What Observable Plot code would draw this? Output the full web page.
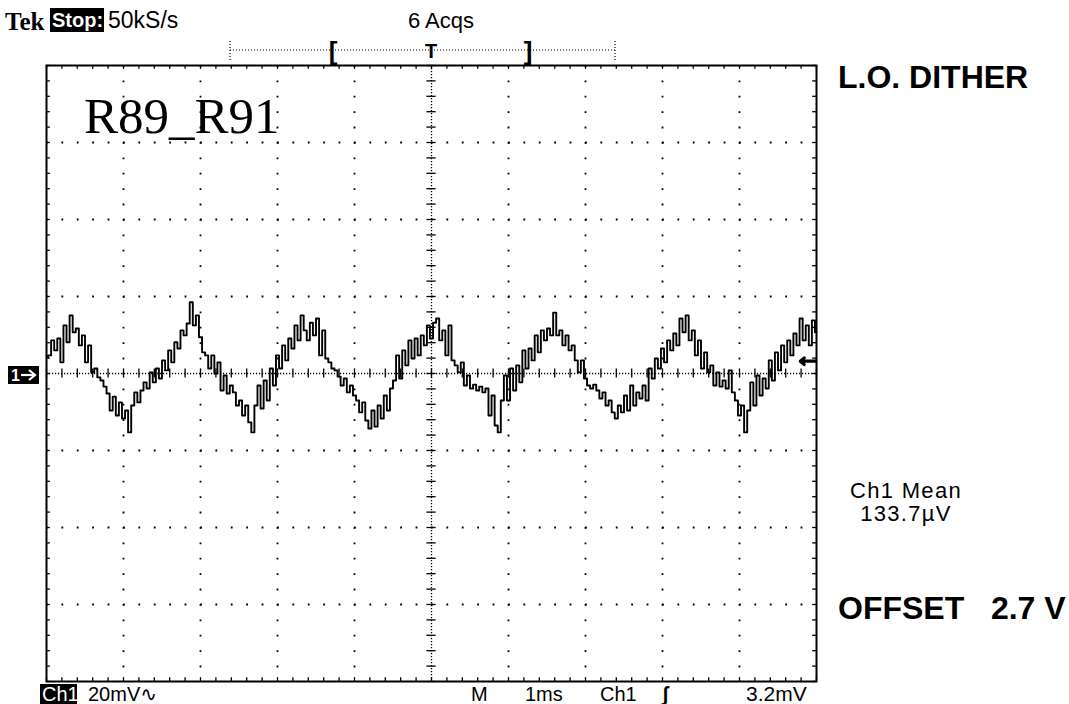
<!DOCTYPE html>
<html>
<head>
<meta charset="utf-8">
<script src="https://cdn.jsdelivr.net/npm/d3@7"></script>
<script src="https://cdn.jsdelivr.net/npm/@observablehq/plot@0.6"></script>
<style>
  html, body { margin: 0; padding: 0; background: #fff; }
  #wrap { position: relative; width: 1069px; height: 704px; overflow: hidden; background: #fff; }
  #wrap > svg { position: absolute; left: 0; top: 0; }
  #overlay text { font-family: "Liberation Sans", Arial, sans-serif; fill: #000; }
</style>
</head>
<body>
<div id="wrap"></div>
<script>
// ---------------- data ----------------
// Channel 1 trace, mV, one sample every 0.04 ms (10 ms record = 10 div x 1 ms/div)
const sampleIntervalMs = 0.04;
const ch1mV = [
  4.2, 4.7, 8.6, 6.0, 9.1, 2.9, 12.5, 8.1, 15.1, 10.7,
  11.7, 7.3, 9.9, 2.9, 7.3, 0.3, 1.3, -1.0, -1.8, -3.4,
  -5.2, -9.6, -6.0, -10.9, -7.5, -11.7, -9.6, -15.3, -8.3, -4.9,
  -7.5, -4.4, -2.3, -3.9, 0.3, -2.3, 1.3, -1.3, 3.4, 0.8,
  6.0, 2.9, 8.1, 6.5, 11.2, 9.9, 13.0, 18.5, 12.5, 15.1,
  9.4, 5.5, 4.7, 1.3, 4.7, 0.0, 2.9, -4.4, -0.5, -5.2,
  -3.1, -4.9, -8.3, -7.0, -10.9, -8.3, -12.7, -15.3, -8.3, -3.1,
  -9.1, -1.8, -7.0, 1.3, -3.1, 4.7, 1.3, 7.3, 3.4, 9.1,
  6.5, 12.5, 8.6, 15.1, 11.2, 8.6, 13.2, 9.9, 14.3, 4.7,
  11.2, 3.9, 2.9, 1.3, 0.8, -0.8, -3.1, -1.3, -4.9, -3.1,
  -5.7, -7.0, -10.1, -7.5, -12.2, -14.3, -9.6, -13.8, -8.3, -11.7,
  -5.7, -9.6, -3.9, -1.8, 4.7, -1.3, 6.0, 2.1, 8.6, 3.9,
  9.1, 4.7, 9.9, 7.3, 12.5, 9.1, 13.2, 14.3, 8.6, 11.2,
  4.7, 12.5, 3.4, 2.1, 0.3, 2.9, -3.1, -0.5, -3.9, -2.9,
  -4.4, -3.4, -4.9, -3.9, -10.9, -5.7, -13.5, -15.3, -7.0, -0.5,
  -7.0, 1.3, -4.4, 2.1, -2.3, 6.0, 1.3, 6.5, 3.4, 9.9,
  5.5, 11.2, 8.6, 11.7, 9.9, 15.8, 9.9, 11.2, 7.3, 9.9,
  6.0, 7.3, 3.4, 0.3, 3.4, -1.3, -3.1, -3.9, -2.9, -4.4,
  -6.5, -4.9, -8.3, -7.0, -10.1, -11.7, -8.3, -10.1, -5.7, -9.6,
  -3.1, -8.3, -4.9, -6.5, -3.1, -7.0, 1.3, -1.3, 3.9, 1.3,
  6.5, 2.9, 8.6, 6.0, 10.4, 7.3, 14.3, 10.7, 15.1, 8.6,
  11.2, 4.7, 8.6, 1.3, 5.5, 0.3, 2.1, -3.1, 0.3, -3.4,
  -1.8, -3.9, 0.8, -4.9, -7.0, -10.9, -8.3, -15.3, -9.6, -2.3,
  -8.3, -0.5, -5.7, -1.3, -3.9, 3.4, -1.8, 5.5, 0.8, 7.3,
  2.9, 8.6, 4.7, 10.4, 7.3, 14.3, 8.6, 12.5, 7.3, 13.8,
  10.7
];
const triggerLevelMv = [3.2];

// graticule: 10 horizontal divisions (1 ms/div), 8 vertical divisions (20 mV/div)
const timeDivs = [0, 1, 2, 3, 4, 5, 6, 7, 8, 9, 10];
const voltDivs = [-80, -60, -40, -20, 0, 20, 40, 60, 80];
const subdivisions = 5;

// screen texts
const topLeftLabel = "Tek";
const runStateLabel = "Stop:";
const sampleRateLabel = "50kS/s";
const acqLabel = "6 Acqs";
const traceName = "R89_R91";
const titleRight = "L.O. DITHER";
const measName = "Ch1 Mean";
const measValue = "133.7µV";
const offsetLabel = "OFFSET   2.7 V";
const chBoxLabel = "Ch1";
const voltsPerDivLabel = "20mV∿";
const mainLabel = "M";
const timePerDivLabel = "1ms";
const trigSourceLabel = "Ch1";
const trigSlopeLabel = "ʃ";
const trigLevelLabel = "3.2mV";

// ---------------- derived tables ----------------
const trace = ch1mV.map((v, i) => ({t: i * sampleIntervalMs, v}));
const tStep = (timeDivs[1] - timeDivs[0]) / subdivisions;
const vStep = (voltDivs[1] - voltDivs[0]) / subdivisions;
const tMinor = d3.range(0, (timeDivs.length - 1) * subdivisions + 1).map(k => timeDivs[0] + k * tStep);
const vMinor = d3.range(0, (voltDivs.length - 1) * subdivisions + 1).map(k => voltDivs[0] + k * vStep);
const tMin = timeDivs[0], tMax = timeDivs[timeDivs.length - 1];
const vMin = voltDivs[0], vMax = voltDivs[voltDivs.length - 1];
const tMid = (tMin + tMax) / 2, vMid = (vMin + vMax) / 2;
const tInner = timeDivs.filter(d => d !== tMin && d !== tMax && d !== tMid);
const vInner = voltDivs.filter(d => d !== vMin && d !== vMax && d !== vMid);

const W = 1069, H = 704;
const mL = 46, mR = 253, mT = 65, mB = 23;
const tickT = tStep * 0.25;   // border tick length in ms units
const tickV = vStep * 0.25;   // border tick length in mV units

const plot = Plot.plot({
  width: W,
  height: H,
  marginLeft: mL,
  marginRight: mR,
  marginTop: mT,
  marginBottom: mB,
  style: {background: "white"},
  x: {domain: [tMin, tMax], axis: null},
  y: {domain: [vMin, vMax], axis: null},
  marks: [
    // major grid lines drawn as dots at every subdivision
    Plot.ruleX(tInner, {stroke: "black", strokeWidth: 1.8, strokeDasharray: "1.8 13.6"}),
    Plot.ruleY(vInner, {stroke: "black", strokeWidth: 1.8, strokeDasharray: "1.8 13.6"}),
    // centre cross: dense dotted lines
    Plot.ruleX([tMid], {stroke: "black", strokeWidth: 1.3, strokeDasharray: "1.2 1.8"}),
    Plot.ruleY([vMid], {stroke: "black", strokeWidth: 1.3, strokeDasharray: "1.2 1.8"}),
    // subdivision ticks on centre cross
    Plot.ruleX(tMinor, {x: d => d, y1: vMid - tickV * 1.2, y2: vMid + tickV * 1.2, stroke: "black", strokeWidth: 1.3}),
    Plot.ruleY(vMinor, {y: d => d, x1: tMid - tickT * 1.2, x2: tMid + tickT * 1.2, stroke: "black", strokeWidth: 1.3}),
    // subdivision ticks on the border
    Plot.ruleX(tMinor, {x: d => d, y1: vMax, y2: vMax - tickV, stroke: "black", strokeWidth: 1.3}),
    Plot.ruleX(tMinor, {x: d => d, y1: vMin, y2: vMin + tickV, stroke: "black", strokeWidth: 1.3}),
    Plot.ruleY(vMinor, {y: d => d, x1: tMin, x2: tMin + tickT, stroke: "black", strokeWidth: 1.3}),
    Plot.ruleY(vMinor, {y: d => d, x1: tMax, x2: tMax - tickT, stroke: "black", strokeWidth: 1.3}),
    // trace
    Plot.line(trace, {x: "t", y: "v", curve: "step", stroke: "black", strokeWidth: 1.9}),
    // trigger level arrow
    Plot.arrow(triggerLevelMv, {
      x1: () => tMax - tStep * 0.05, x2: () => tMax - tStep * 1.05,
      y1: d => d, y2: d => d,
      stroke: "black", strokeWidth: 3.2, headLength: 12, headAngle: 80
    }),
    Plot.frame({stroke: "black", strokeWidth: 2})
  ]
});

const wrap = document.getElementById("wrap");
wrap.appendChild(plot);

// ---------------- screen annotations (overlay SVG) ----------------
const svgNS = "http://www.w3.org/2000/svg";
const ov = document.createElementNS(svgNS, "svg");
ov.setAttribute("id", "overlay");
ov.setAttribute("width", W);
ov.setAttribute("height", H);
ov.style.position = "absolute";
ov.style.left = "0";
ov.style.top = "0";
wrap.appendChild(ov);

function txt(s, x, y, opts = {}) {
  const t = document.createElementNS(svgNS, "text");
  t.textContent = s;
  t.setAttribute("x", x);
  t.setAttribute("y", y);
  t.setAttribute("font-size", opts.size || 20);
  if (opts.weight) t.setAttribute("font-weight", opts.weight);
  if (opts.anchor) t.setAttribute("text-anchor", opts.anchor);
  if (opts.family) t.style.fontFamily = opts.family;
  if (opts.fill) t.style.fill = opts.fill;
  if (opts.ls) t.setAttribute("letter-spacing", opts.ls);
  t.setAttribute("xml:space", "preserve");
  t.style.whiteSpace = "pre";
  ov.appendChild(t);
  return t;
}
function box(x, y, w, h) {
  const r = document.createElementNS(svgNS, "rect");
  r.setAttribute("x", x); r.setAttribute("y", y);
  r.setAttribute("width", w); r.setAttribute("height", h);
  r.setAttribute("fill", "black");
  ov.appendChild(r);
}
function line(x1, y1, x2, y2, dash, sw, color) {
  const l = document.createElementNS(svgNS, "line");
  l.setAttribute("x1", x1); l.setAttribute("y1", y1);
  l.setAttribute("x2", x2); l.setAttribute("y2", y2);
  l.setAttribute("stroke", color || "black");
  l.setAttribute("stroke-width", sw || 1.2);
  if (dash) l.setAttribute("stroke-dasharray", dash);
  ov.appendChild(l);
}

// header
txt(topLeftLabel, 5, 30, {size: 25, weight: "bold", family: "'Liberation Serif', serif"});
box(50, 8, 54, 24);
txt(runStateLabel, 52, 27, {size: 20, weight: "bold", fill: "white"});
txt(sampleRateLabel, 108, 28, {size: 23});
txt(acqLabel, 441, 28, {size: 22, anchor: "middle"});

// record window bar
line(230, 50, 615, 50, "1 2");
line(230, 41, 230, 60, "1 2");
line(615, 41, 615, 60, "1 2");
txt("[", 333, 60, {size: 26, weight: "bold", anchor: "middle"});
txt("T", 431, 58, {size: 20, weight: "bold", anchor: "middle"});
txt("]", 528, 60, {size: 26, weight: "bold", anchor: "middle"});

// trace name
txt(traceName, 84, 133, {size: 51, family: "'Liberation Serif', 'Times New Roman', serif"});

// right side annotations
txt(titleRight, 838, 88, {size: 32, weight: "bold"});
txt(measName, 906, 498, {size: 22, anchor: "middle", ls: 1.3});
txt(measValue, 906, 521, {size: 22, anchor: "middle", ls: 1.3});
txt(offsetLabel, 838, 619, {size: 32, weight: "bold"});

// ground marker (channel 1 reference level)
box(8, 366, 31, 18);
txt("1", 11, 381, {size: 16, weight: "bold", fill: "white"});
line(21, 375, 34, 375, null, 2.2, "white");
const gh = document.createElementNS(svgNS, "path");
gh.setAttribute("d", "M29,370 L35,375 L29,380");
gh.setAttribute("stroke", "white"); gh.setAttribute("stroke-width", 2.2); gh.setAttribute("fill", "none");
ov.appendChild(gh);

// status line
box(40, 684, 37, 20);
txt(chBoxLabel, 42, 701, {size: 20, fill: "white"});
txt(voltsPerDivLabel, 88, 701, {size: 20, family: "'Liberation Sans', 'DejaVu Sans', sans-serif"});
txt(mainLabel, 471, 701, {size: 20});
txt(timePerDivLabel, 525, 701, {size: 20});
txt(trigSourceLabel, 600, 701, {size: 20});
txt(trigSlopeLabel, 662, 701, {size: 20, weight: "bold"});
txt(trigLevelLabel, 746, 701, {size: 21});
</script>
</body>
</html>
